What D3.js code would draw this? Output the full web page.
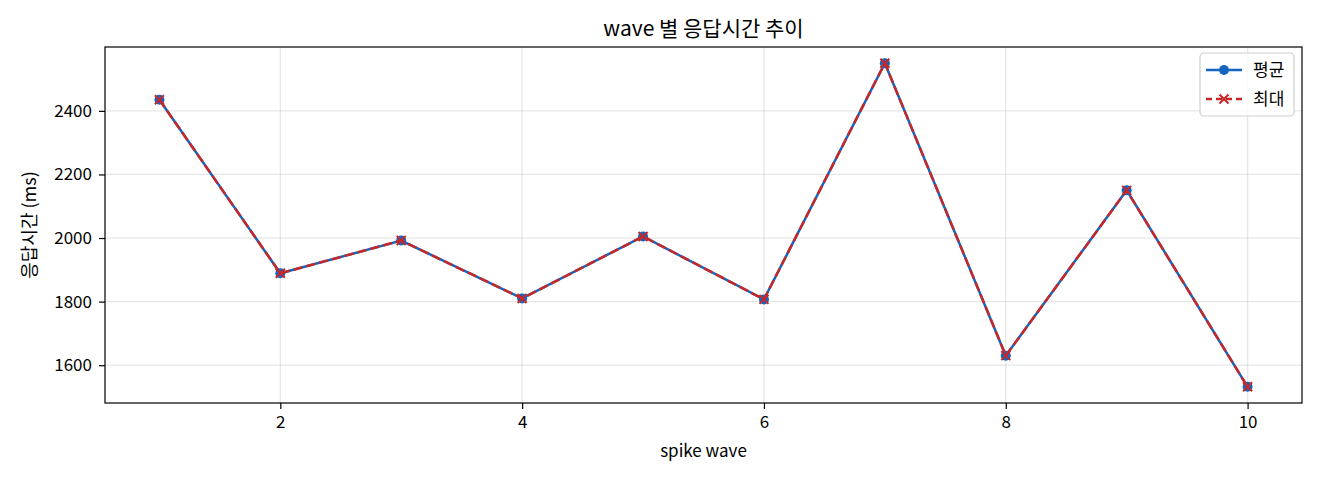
<!DOCTYPE html>
<html>
<head>
<meta charset="utf-8">
<script src="https://cdn.jsdelivr.net/npm/d3@7"></script>
<style>
  body { margin: 0; background: #fff; }
  text { font-family: "Noto Sans CJK KR", "Noto Sans", sans-serif; }
</style>
</head>
<body>
<script>
var waves = [1, 2, 3, 4, 5, 6, 7, 8, 9, 10];
var avgMs = [2435, 1889, 1992, 1810, 2005, 1807, 2550, 1630, 2150, 1532];
var maxMs = [2435, 1889, 1992, 1810, 2005, 1807, 2550, 1630, 2150, 1532];
var xTicks = [2, 4, 6, 8, 10];
var yTicks = [1600, 1800, 2000, 2200, 2400];

var W = 1320, H = 480;
var m = { left: 105, right: 18, top: 47, bottom: 77 };
var iw = W - m.left - m.right, ih = H - m.top - m.bottom;

var svg = d3.select("body").append("svg")
  .attr("width", W)
  .attr("height", H);

// matplotlib style 5% margins
var xmin = d3.min(waves), xmax = d3.max(waves);
var xpad = (xmax - xmin) * 0.05;
var all = avgMs.concat(maxMs);
var ymin = d3.min(all), ymax = d3.max(all);
var ypad = (ymax - ymin) * 0.05;

var x = d3.scaleLinear().domain([xmin - xpad, xmax + xpad]).range([0, iw]);
var y = d3.scaleLinear().domain([ymin - ypad, ymax + ypad]).range([ih, 0]);

var g = svg.append("g").attr("transform", "translate(" + m.left + "," + m.top + ")");

// grid
g.append("g").selectAll("line").data(xTicks).enter().append("line")
  .attr("x1", d => x(d)).attr("x2", d => x(d))
  .attr("y1", 0).attr("y2", ih)
  .attr("stroke", "#b0b0b0").attr("stroke-opacity", 0.3).attr("stroke-width", 1.3);
g.append("g").selectAll("line").data(yTicks).enter().append("line")
  .attr("x1", 0).attr("x2", iw)
  .attr("y1", d => y(d)).attr("y2", d => y(d))
  .attr("stroke", "#b0b0b0").attr("stroke-opacity", 0.3).attr("stroke-width", 1.3);

// axes
var xAxis = g.append("g").attr("transform", "translate(0," + ih + ")")
  .call(d3.axisBottom(x).tickValues(xTicks).tickSize(6).tickPadding(7).tickFormat(d3.format("d")));
var yAxis = g.append("g")
  .call(d3.axisLeft(y).tickValues(yTicks).tickSize(6).tickPadding(7).tickFormat(d3.format("d")));
[xAxis, yAxis].forEach(function (a) {
  a.select(".domain").remove();
  a.selectAll("line").attr("stroke", "#000").attr("stroke-width", 1.2);
  a.selectAll("text").attr("font-size", 17).attr("fill", "#000")
    .style("font-family", '"Noto Sans CJK KR", sans-serif');
});

// frame
g.append("rect").attr("width", iw).attr("height", ih)
  .attr("fill", "none").attr("stroke", "#000").attr("stroke-width", 1.2);

var blue = "#1565c0", red = "#c62828";
var line = d3.line().x((d, i) => x(waves[i])).y(d => y(d));

// 평균
g.append("path").datum(avgMs).attr("d", line)
  .attr("fill", "none").attr("stroke", blue).attr("stroke-width", 2.5);
g.append("g").selectAll("circle").data(avgMs).enter().append("circle")
  .attr("cx", (d, i) => x(waves[i])).attr("cy", d => y(d)).attr("r", 5)
  .attr("fill", blue);

// 최대
g.append("path").datum(maxMs).attr("d", line)
  .attr("fill", "none").attr("stroke", red).attr("stroke-width", 2.5)
  .attr("stroke-dasharray", "9.25,4");
var cross = function (sel, cx, cy) {
  var s = 4.5;
  sel.append("path")
    .attr("d", "M" + (cx - s) + "," + (cy - s) + "L" + (cx + s) + "," + (cy + s) +
      "M" + (cx - s) + "," + (cy + s) + "L" + (cx + s) + "," + (cy - s))
    .attr("stroke", red).attr("stroke-width", 2);
};
var crosses = g.append("g");
maxMs.forEach(function (d, i) { cross(crosses, x(waves[i]), y(d)); });

// title & labels
svg.append("text").attr("x", m.left + iw / 2).attr("y", 36)
  .attr("text-anchor", "middle").attr("font-size", 21).attr("fill", "#000")
  .text("wave 별 응답시간 추이");
svg.append("text").attr("x", m.left + iw / 2).attr("y", 457)
  .attr("text-anchor", "middle").attr("font-size", 17).attr("fill", "#000")
  .text("spike wave");
svg.append("text")
  .attr("transform", "translate(36," + (m.top + ih / 2) + ") rotate(-90)")
  .attr("text-anchor", "middle").attr("font-size", 18).attr("fill", "#000")
  .text("응답시간 (ms)");

// legend
var lg = svg.append("g").attr("transform", "translate(1200,53)");
lg.append("rect").attr("width", 94).attr("height", 63).attr("rx", 4)
  .attr("fill", "#fff").attr("fill-opacity", 0.8)
  .attr("stroke", "#d0d0d0").attr("stroke-width", 1.2);
var items = [
  { label: "평균", color: blue, dash: null, marker: "circle" },
  { label: "최대", color: red, dash: "6,4", marker: "x" }
];
items.forEach(function (it, i) {
  var cy = 17 + i * 29;
  lg.append("line").attr("x1", 6).attr("x2", 42).attr("y1", cy).attr("y2", cy)
    .attr("stroke", it.color).attr("stroke-width", 2.5)
    .attr("stroke-dasharray", it.dash);
  if (it.marker === "circle") {
    lg.append("circle").attr("cx", 24).attr("cy", cy).attr("r", 5).attr("fill", it.color);
  } else {
    cross(lg, 24, cy);
  }
  lg.append("text").attr("x", 53).attr("y", cy + 6).attr("font-size", 17).attr("fill", "#000")
    .text(it.label);
});
</script>
</body>
</html>
